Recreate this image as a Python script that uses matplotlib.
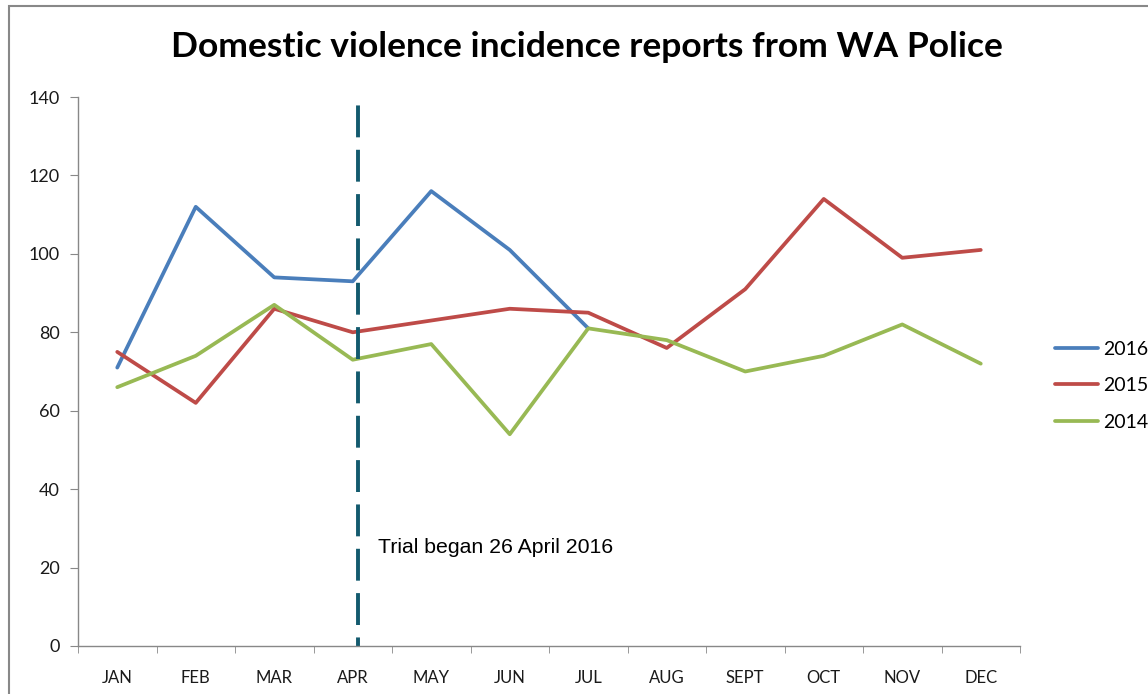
import numpy as np
import matplotlib.pyplot as plt
from matplotlib.patches import Rectangle

months = ["JAN", "FEB", "MAR", "APR", "MAY", "JUN", "JUL", "AUG", "SEPT", "OCT", "NOV", "DEC"]
y2016 = [71, 112, 94, 93, 116, 101, 81]
y2015 = [75, 62, 86, 80, 83, 86, 85, 76, 91, 114, 99, 101]
y2014 = [66, 74, 87, 73, 77, 54, 81, 78, 70, 74, 82, 72]
trial_x = 3.07
trial_label = "Trial began 26 April 2016"

plt.rcParams['font.family'] = ['Lato', 'DejaVu Sans']

fig = plt.figure(figsize=(11.48, 6.94), dpi=100)
ax = fig.add_axes([78 / 1148, 48 / 694, 942 / 1148, 549 / 694])

x = np.arange(len(months))
ax.plot(x[:len(y2016)], y2016, color="#4A7EBB", lw=2.7, label="2016", solid_capstyle="round")
ax.plot(x, y2015, color="#BE4B48", lw=2.7, label="2015", solid_capstyle="round")
ax.plot(x, y2014, color="#98B954", lw=2.7, label="2014", solid_capstyle="round")

ax.axvline(trial_x, color="#135A6E", lw=2.8, linestyle=(6, (8.2, 3.2)))
ax.text(trial_x + 0.25, 25, trial_label, family="Liberation Sans", fontsize=15.3,
        color="black", va="center", ha="left")

ax.set_xlim(-0.5, len(months) - 0.5)
ax.set_ylim(0, 140)
ax.set_yticks(range(0, 141, 20))
ax.set_xticks(x)
ax.set_xticklabels(months)
ax.set_xticks(np.arange(-0.5, len(months), 1), minor=True)

for s in ["top", "right"]:
    ax.spines[s].set_visible(False)
for s in ["left", "bottom"]:
    ax.spines[s].set_color("#888888")
    ax.spines[s].set_linewidth(1.0)

ax.tick_params(axis="x", which="major", length=0, pad=17, labelsize=12, labelcolor="#1a1a1a")
ax.tick_params(axis="x", which="minor", length=5, color="#888888", direction="out")
ax.tick_params(axis="y", length=6, color="#888888", pad=7, labelsize=13, labelcolor="#1a1a1a")

leg = ax.legend(loc="center left", bbox_to_anchor=(1.029, 0.474), frameon=False,
                fontsize=14, handlelength=2.2, labelspacing=1.0, handletextpad=0.25,
                borderaxespad=0)
for h in leg.get_lines():
    h.set_linewidth(2.7)

fig.text(587 / 1148, 1 - 47 / 694, "Domestic violence incidence reports from WA Police",
         ha="center", va="center", fontsize=25.5, fontweight="bold", color="black")

fig.patches.append(Rectangle((9 / 1148, -0.05), 1.1, 1 - 6 / 694 + 0.05,
                             transform=fig.transFigure, fill=False,
                             edgecolor="#888888", lw=1.5))

fig.savefig("out.png", dpi=100)
